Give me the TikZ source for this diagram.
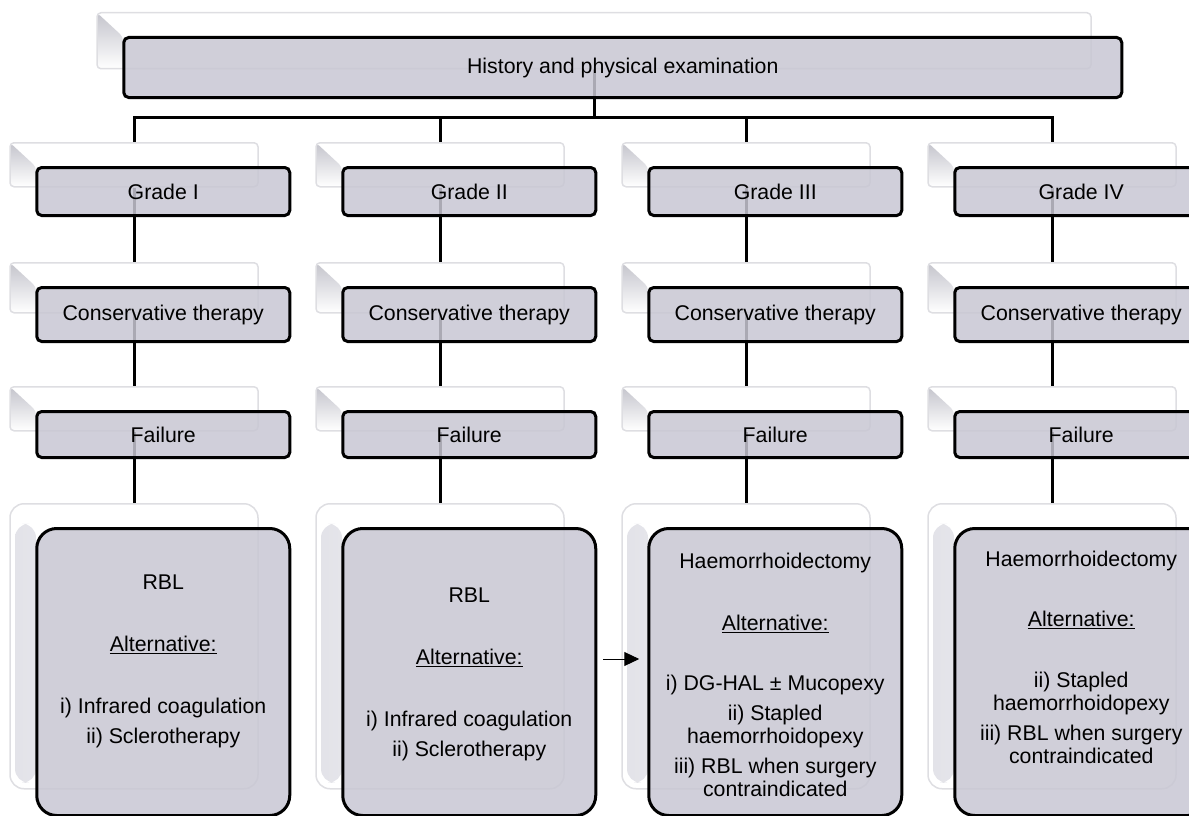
\documentclass[tikz,border=0pt]{standalone}
\usepackage{fontspec}
\setmainfont{Liberation Sans}
\usepackage{tikz}
\usetikzlibrary{positioning, arrows.meta, backgrounds}
\definecolor{boxfill}{RGB}{200,199,211}
\definecolor{ghostline}{RGB}{222,222,226}
\definecolor{wedge}{RGB}{196,196,204}
\definecolor{band}{RGB}{226,226,232}

\begin{document}
\begin{tikzpicture}[
    x=1pt, y=-1pt,
    font=\fontsize{21.3}{23}\selectfont,
    back/.style={rectangle, draw=ghostline, line width=1.5pt, fill=white, rounded corners=4pt, anchor=north, minimum width=248pt, inner sep=0pt,
        path picture={\shade[top color=wedge, bottom color=white] (path picture bounding box.north west) -- ++(26pt,-24pt) -- ([xshift=26pt]path picture bounding box.south west) -- (path picture bounding box.south west) -- cycle;}},
    treatback/.style={back, rounded corners=14pt,
        path picture={\shade[left color=band, right color=white] ([xshift=5pt,yshift=-20pt]path picture bounding box.north west) rectangle ([xshift=26pt,yshift=6pt]path picture bounding box.south west);}},
    concept/.style={rectangle, draw, line width=3pt, rounded corners=5pt, fill=boxfill, fill opacity=0.85, text opacity=1, align=center, minimum width=253pt, inner sep=2pt},
    treat/.style={concept, rounded corners=20pt, minimum height=287pt},
    treattext/.style={align=center, inner sep=0pt},
    link/.style={line width=3pt},
    arrow/.style={-{Triangle[length=15pt, width=14pt]}, line width=1pt}
]
\useasboundingbox (0,0) rectangle (1189,816);

\node[back, minimum width=994pt, minimum height=56pt] (historyback) at (594,12) {};
\node[concept, minimum width=998pt, minimum height=60pt, below right=24pt and 26pt of historyback.north west] (history) {History and physical examination};

% Grade I
\node[back, minimum height=44pt] (grade1back) at (134,142) {};
\node[concept, minimum height=48pt, below right=24pt and 26pt of grade1back.north west] (grade1) {Grade I};
\node[back, minimum height=50pt] (cons1back) at (134,262) {};
\node[concept, minimum height=54pt, below right=24pt and 26pt of cons1back.north west] (cons1) {Conservative therapy};
\node[back, minimum height=44pt] (fail1back) at (134,386) {};
\node[concept, minimum height=46pt, below right=24pt and 26pt of fail1back.north west] (fail1) {Failure};
\node[treatback, minimum height=285pt] (treat1back) at (134,503) {};
\node[treat, below right=24pt and 26pt of treat1back.north west] (treat1) {};
\node[treattext, below=48pt of treat1.north] (treat1text) {RBL\\[39pt]\underline{Alternative:}\\[39pt]i) Infrared coagulation\\[7pt]ii) Sclerotherapy};

% Grade II
\node[back, minimum height=44pt] (grade2back) at (440,142) {};
\node[concept, minimum height=48pt, below right=24pt and 26pt of grade2back.north west] (grade2) {Grade II};
\node[back, minimum height=50pt] (cons2back) at (440,262) {};
\node[concept, minimum height=54pt, below right=24pt and 26pt of cons2back.north west] (cons2) {Conservative therapy};
\node[back, minimum height=44pt] (fail2back) at (440,386) {};
\node[concept, minimum height=46pt, below right=24pt and 26pt of fail2back.north west] (fail2) {Failure};
\node[treatback, minimum height=285pt] (treat2back) at (440,503) {};
\node[treat, below right=24pt and 26pt of treat2back.north west] (treat2) {};
\node[treattext, below=61pt of treat2.north] (treat2text) {RBL\\[39pt]\underline{Alternative:}\\[39pt]i) Infrared coagulation\\[7pt]ii) Sclerotherapy};

% Grade III
\node[back, minimum height=44pt] (grade3back) at (746,142) {};
\node[concept, minimum height=48pt, below right=24pt and 26pt of grade3back.north west] (grade3) {Grade III};
\node[back, minimum height=50pt] (cons3back) at (746,262) {};
\node[concept, minimum height=54pt, below right=24pt and 26pt of cons3back.north west] (cons3) {Conservative therapy};
\node[back, minimum height=44pt] (fail3back) at (746,386) {};
\node[concept, minimum height=46pt, below right=24pt and 26pt of fail3back.north west] (fail3) {Failure};
\node[treatback, minimum height=285pt] (treat3back) at (746,503) {};
\node[treat, below right=24pt and 26pt of treat3back.north west] (treat3) {};
\node[treattext, below=26pt of treat3.north] (treat3text) {Haemorrhoidectomy\\[39pt]\underline{Alternative:}\\[37pt]i) DG-HAL ± Mucopexy\\[7pt]ii) Stapled\\haemorrhoidopexy\\[7pt]iii) RBL when surgery\\contraindicated};

% Grade IV
\node[back, minimum height=44pt] (grade4back) at (1052,142) {};
\node[concept, minimum height=48pt, below right=24pt and 26pt of grade4back.north west] (grade4) {Grade IV};
\node[back, minimum height=50pt] (cons4back) at (1052,262) {};
\node[concept, minimum height=54pt, below right=24pt and 26pt of cons4back.north west] (cons4) {Conservative therapy};
\node[back, minimum height=44pt] (fail4back) at (1052,386) {};
\node[concept, minimum height=46pt, below right=24pt and 26pt of fail4back.north west] (fail4) {Failure};
\node[treatback, minimum height=285pt] (treat4back) at (1052,503) {};
\node[treat, below right=24pt and 26pt of treat4back.north west] (treat4) {};
\node[treattext, below=24pt of treat4.north] (treat4text) {Haemorrhoidectomy\\[37pt]\underline{Alternative:}\\[38pt]ii) Stapled\\haemorrhoidopexy\\[7pt]iii) RBL when surgery\\contraindicated};

\begin{scope}[on background layer]
\coordinate (split) at (594,117);
\draw[link] (historyback) -- (split);
\draw[link] (split) -| (grade1back);
\draw[link] (split) -| (grade2back);
\draw[link] (split) -| (grade3back);
\draw[link] (split) -| (grade4back);
\draw[link] (grade1back) -- (cons1back) (cons1back) -- (fail1back) (fail1back) -- (treat1back);
\draw[link] (grade2back) -- (cons2back) (cons2back) -- (fail2back) (fail2back) -- (treat2back);
\draw[link] (grade3back) -- (cons3back) (cons3back) -- (fail3back) (fail3back) -- (treat3back);
\draw[link] (grade4back) -- (cons4back) (cons4back) -- (fail4back) (fail4back) -- (treat4back);
\end{scope}

\draw[arrow] ([xshift=6pt,yshift=13pt]treat2.east) -- ([xshift=-8pt,yshift=13pt]treat3.west);
\end{tikzpicture}
\end{document}
